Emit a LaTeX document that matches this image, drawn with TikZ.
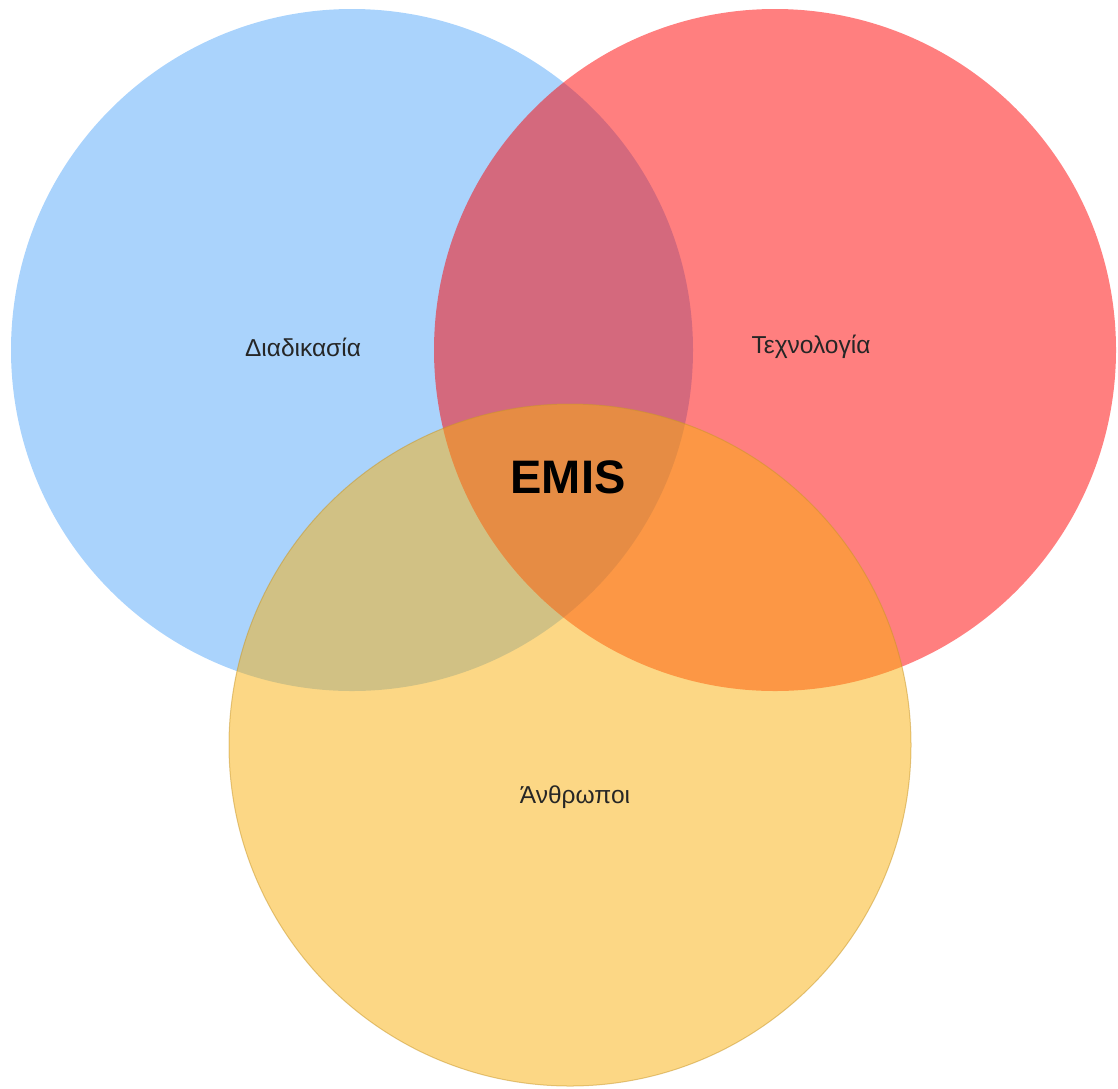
\documentclass[tikz,border=0pt]{standalone}
\usepackage{fontspec}
\setmainfont{Liberation Sans}
\definecolor{cblue}{RGB}{85,168,250}
\definecolor{cred}{RGB}{255,0,0}
\definecolor{cyel}{RGB}{249,176,12}
\definecolor{cyelline}{RGB}{200,150,40}
\begin{document}
\begin{tikzpicture}[x=1pt,y=-1pt,
  venn/.style={circle,minimum size=682pt,inner sep=0pt,fill opacity=0.5,draw=none},
  lbl/.style={font=\fontsize{24.5}{28}\selectfont,text=black!85},
  big/.style={font=\fontsize{47}{52}\selectfont\bfseries,text=black}]
\useasboundingbox (0,0) rectangle (1118,1088);
\node[venn,fill=cblue] (proc) at (352,350) {};
\node[venn,fill=cred] (tech) at (775,350) {};
\node[venn,fill=cyel,draw=cyelline,draw opacity=0.5,line width=1pt] (ppl) at (570,745) {};
\node[lbl] (tproc) at (303,347) {Διαδικασία};
\node[lbl] (ttech) at (811,347) {Τεχνολογία};
\node[lbl] (tppl) at (575,797) {Άνθρωποι};
\node[big] (emis) at (568,477) {EMIS};
\end{tikzpicture}
\end{document}
